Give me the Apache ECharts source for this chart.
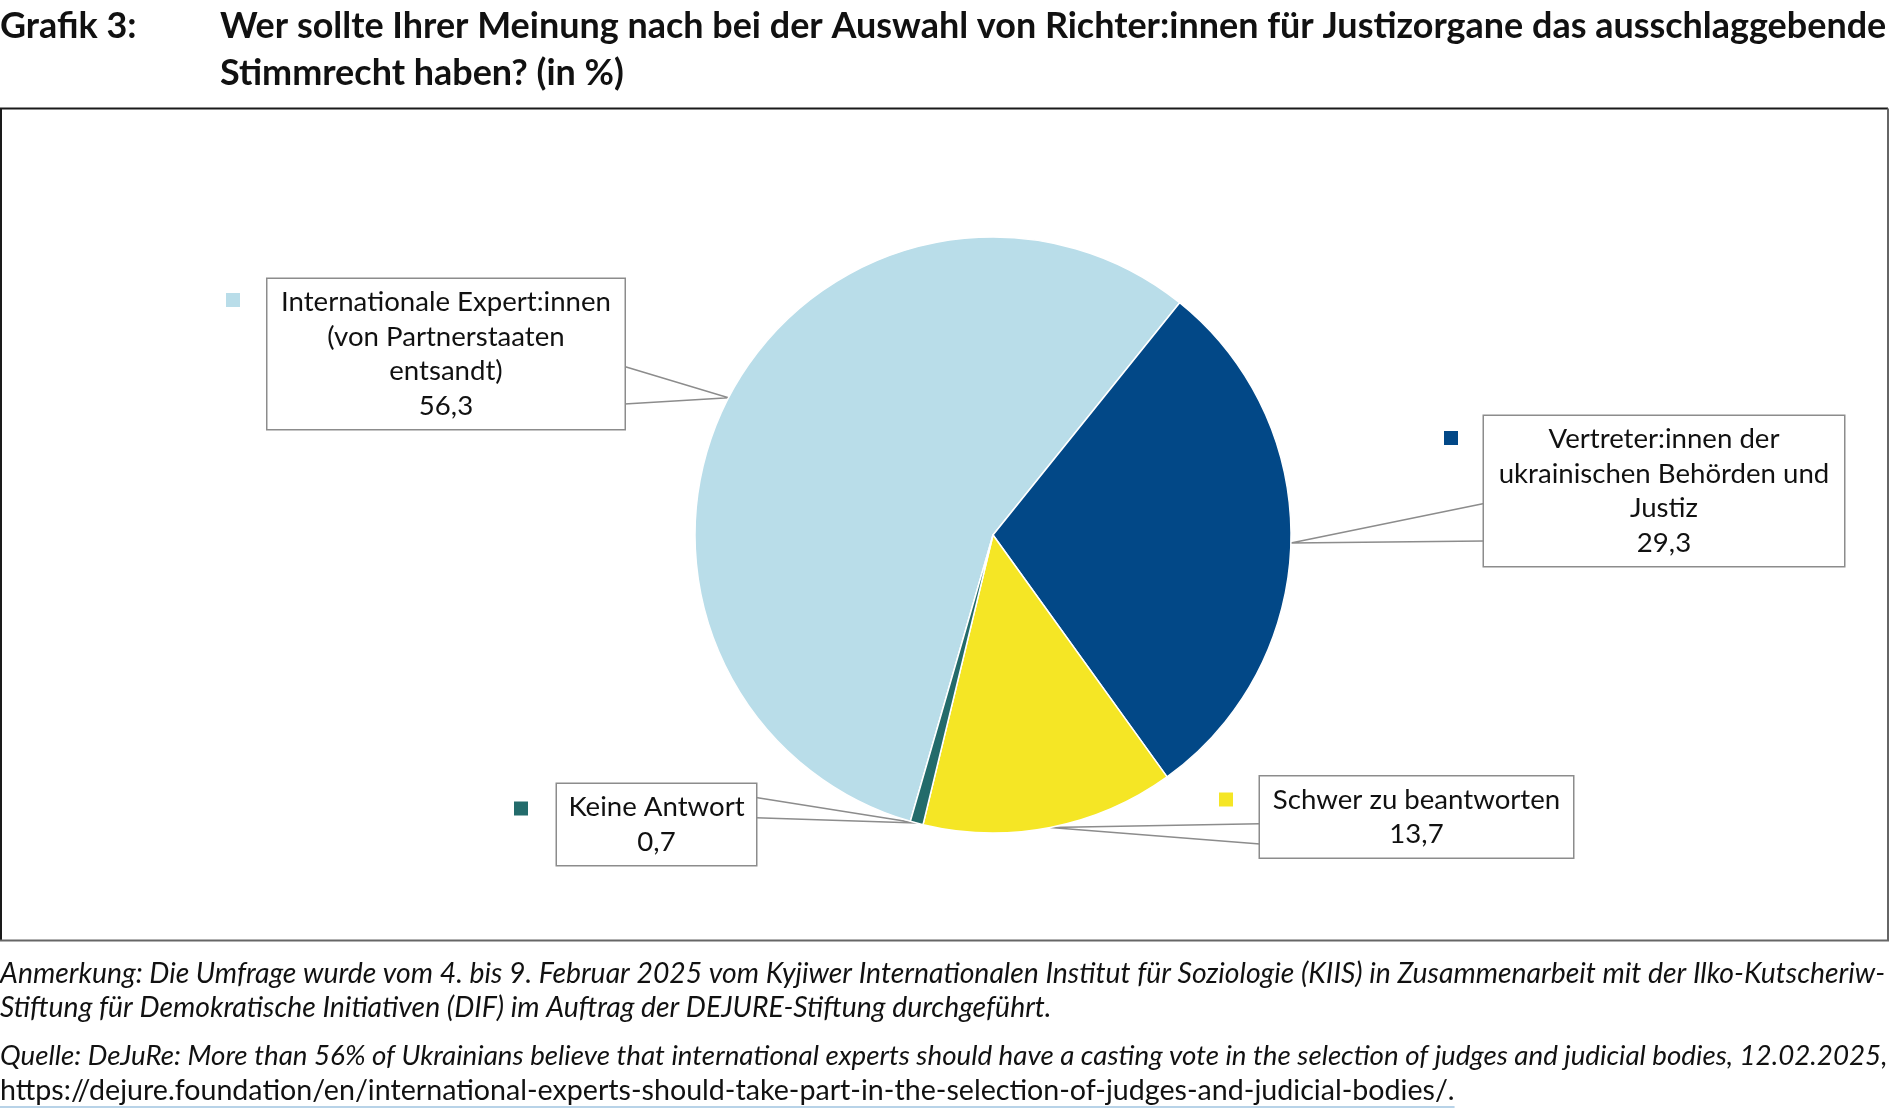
<!DOCTYPE html>
<html><head><meta charset="utf-8">
<script src="https://cdn.jsdelivr.net/npm/echarts@6/dist/echarts.min.js"></script>
<style>html,body{margin:0;padding:0;background:#fff}#c{width:1890px;height:1119px}</style>
</head><body><div id="c"></div><script>
// ---- data ----
const categories = [
  'Internationale Expert:innen\n(von Partnerstaaten\nentsandt)',
  'Vertreter:innen der\nukrainischen Behörden und\nJustiz',
  'Schwer zu beantworten',
  'Keine Antwort'
];
const values = [56.3, 29.3, 13.7, 0.7];
const colors = ['#b9dde9', '#024887', '#f5e625', '#236b6b'];
const titleLabel = 'Grafik 3:';
const titleLines = [
  'Wer sollte Ihrer Meinung nach bei der Auswahl von Richter:innen für Justizorgane das ausschlaggebende',
  'Stimmrecht haben? (in %)'
];
const noteLines = [
  'Anmerkung: Die Umfrage wurde vom 4. bis 9. Februar 2025 vom Kyjiwer Internationalen Institut für Soziologie (KIIS) in Zusammenarbeit mit der Ilko-Kutscheriw-',
  'Stiftung für Demokratische Initiativen (DIF) im Auftrag der DEJURE-Stiftung durchgeführt.',
  'Quelle: DeJuRe: More than 56% of Ukrainians believe that international experts should have a casting vote in the selection of judges and judicial bodies, 12.02.2025,'
];
const linkLine = 'https://dejure.foundation/en/international-experts-should-take-part-in-the-selection-of-judges-and-judicial-bodies/.';

// ---- layout (px) ----
const FONT = 'Lato';
const boxCenters = [[446, 354], [1664, 491], [1416.5, 817], [656.5, 824.5]];
const boxWidths = [357, 360, 313, 199];
const keyCenters = [[233, 300], [1451, 438], [1226, 799.5], [521, 808.5]];
const LH = 34.5, PADV = 6, PADH = 10;

const mctx = document.createElement('canvas').getContext('2d');
function fit(text, style, weight, target) {
  mctx.font = style + ' ' + weight + ' 100px ' + FONT;
  return 100 * target / mctx.measureText(text).width;
}
function measure(text, style, weight, size) {
  mctx.font = style + ' ' + weight + ' ' + size + 'px ' + FONT;
  return mctx.measureText(text).width;
}
const titleSize = fit(titleLines[0], 'normal', 'bold', 1667);
const note1Size = fit(noteLines[0], 'italic', 'normal', 1886);
const note3Size = fit(noteLines[2], 'italic', 'normal', 1888);
const linkSize = fit(linkLine, 'normal', 'normal', 1455);
const labelSize = fit('Internationale Expert:innen', 'normal', 'normal', 330);
const linkW = measure(linkLine, 'normal', 'normal', linkSize);

const fmtNum = v => v.toFixed(1).replace('.', ',');
const nLines = s => s.split('\n').length;

const chart = echarts.init(document.getElementById('c'), null, {renderer: 'canvas'});

const legends = categories.map((c, i) => ({
  data: [c], left: keyCenters[i][0] - 7, top: keyCenters[i][1] - 7,
  orient: 'vertical', padding: 0, icon: 'rect', itemWidth: 14, itemHeight: 14,
  itemGap: 0, selectedMode: false, formatter: () => '',
  itemStyle: {borderWidth: 0}, textStyle: {fontSize: 1}
}));

const txt = (text, x, y, size, weight, style, fill) => ({
  type: 'text', x: x, y: y, silent: true,
  style: {text: text, fontFamily: FONT, fontSize: size, fontWeight: weight, fontStyle: style,
          fill: fill || '#111', align: 'left', verticalAlign: 'middle'}
});

const option = {
  backgroundColor: '#fff',
  animation: false,
  color: colors,
  legend: legends,
  graphic: [
    {type: 'line', shape: {x1: 0, y1: 108.5, x2: 1888, y2: 108.5}, style: {stroke: '#1a1a1a', lineWidth: 2}},
    {type: 'line', shape: {x1: 1, y1: 108.5, x2: 1, y2: 940}, style: {stroke: '#1a1a1a', lineWidth: 2}},
    {type: 'line', shape: {x1: 1888, y1: 108.5, x2: 1888, y2: 940.5}, style: {stroke: '#666', lineWidth: 2}},
    {type: 'line', shape: {x1: 0, y1: 940.5, x2: 1889, y2: 940.5}, style: {stroke: '#666', lineWidth: 2}},
    txt(titleLabel, 0, 26.5, titleSize, 'bold', 'normal'),
    txt(titleLines[0], 220, 26.5, titleSize, 'bold', 'normal'),
    txt(titleLines[1], 220, 73.5, titleSize, 'bold', 'normal'),
    txt(noteLines[0], 0, 974, note1Size, 'normal', 'italic'),
    txt(noteLines[1], 0, 1008, note1Size, 'normal', 'italic'),
    txt(noteLines[2], 0, 1056, note3Size, 'normal', 'italic'),
    txt(linkLine, 0, 1091, linkSize, 'normal', 'normal'),
    {type: 'line', shape: {x1: 0, y1: 1107, x2: linkW, y2: 1107}, style: {stroke: '#b8d3e8', lineWidth: 2}}
  ],
  series: [{
    type: 'pie',
    center: [993, 535],
    radius: 298,
    startAngle: 90 - 196.1,
    clockwise: true,
    avoidLabelOverlap: false,
    silent: true,
    itemStyle: {borderColor: '#fff', borderWidth: 1.5},
    label: {
      show: true, position: 'outside',
      formatter: p => p.name + '\n' + fmtNum(p.value),
      fontFamily: FONT, fontSize: labelSize, lineHeight: LH, color: '#111',
      backgroundColor: '#fff', borderColor: '#8c8c8c', borderWidth: 1.5,
      padding: [PADV, PADH], align: 'center'
    },
    labelLine: {show: true, length: 20, length2: 20, lineStyle: {color: '#8c8c8c', width: 1.5}},
    labelLayout: function (p) {
      const i = p.dataIndex;
      const bx = boxCenters[i][0], by = boxCenters[i][1];
      const w = boxWidths[i];
      const h = (nLines(categories[i]) + 1) * LH + 2 * PADV;
      const tip = p.labelLinePoints ? p.labelLinePoints[0] : [bx, by];
      const dx = tip[0] - bx, dy = tip[1] - by;
      const L = bx - w / 2, T = by - h / 2;
      let pts;
      if (Math.abs(dx) / w >= Math.abs(dy) / h) {
        const sx = dx > 0 ? L + w : L;
        const f = dy > 0 ? [7 / 12, 10 / 12] : [2 / 12, 5 / 12];
        pts = [[sx, T + h * f[0]], tip, [sx, T + h * f[1]]];
      } else {
        const sy = dy > 0 ? T + h : T;
        const f = dx > 0 ? [7 / 12, 10 / 12] : [2 / 12, 5 / 12];
        pts = [[L + w * f[0], sy], tip, [L + w * f[1], sy]];
      }
      return {x: bx, y: by, align: 'center', verticalAlign: 'middle', labelLinePoints: pts};
    },
    data: categories.map((c, i) => ({
      name: c, value: values[i],
      label: {width: boxWidths[i] - 2 * PADH}
    }))
  }]
};
chart.setOption(option);
</script></body></html>
